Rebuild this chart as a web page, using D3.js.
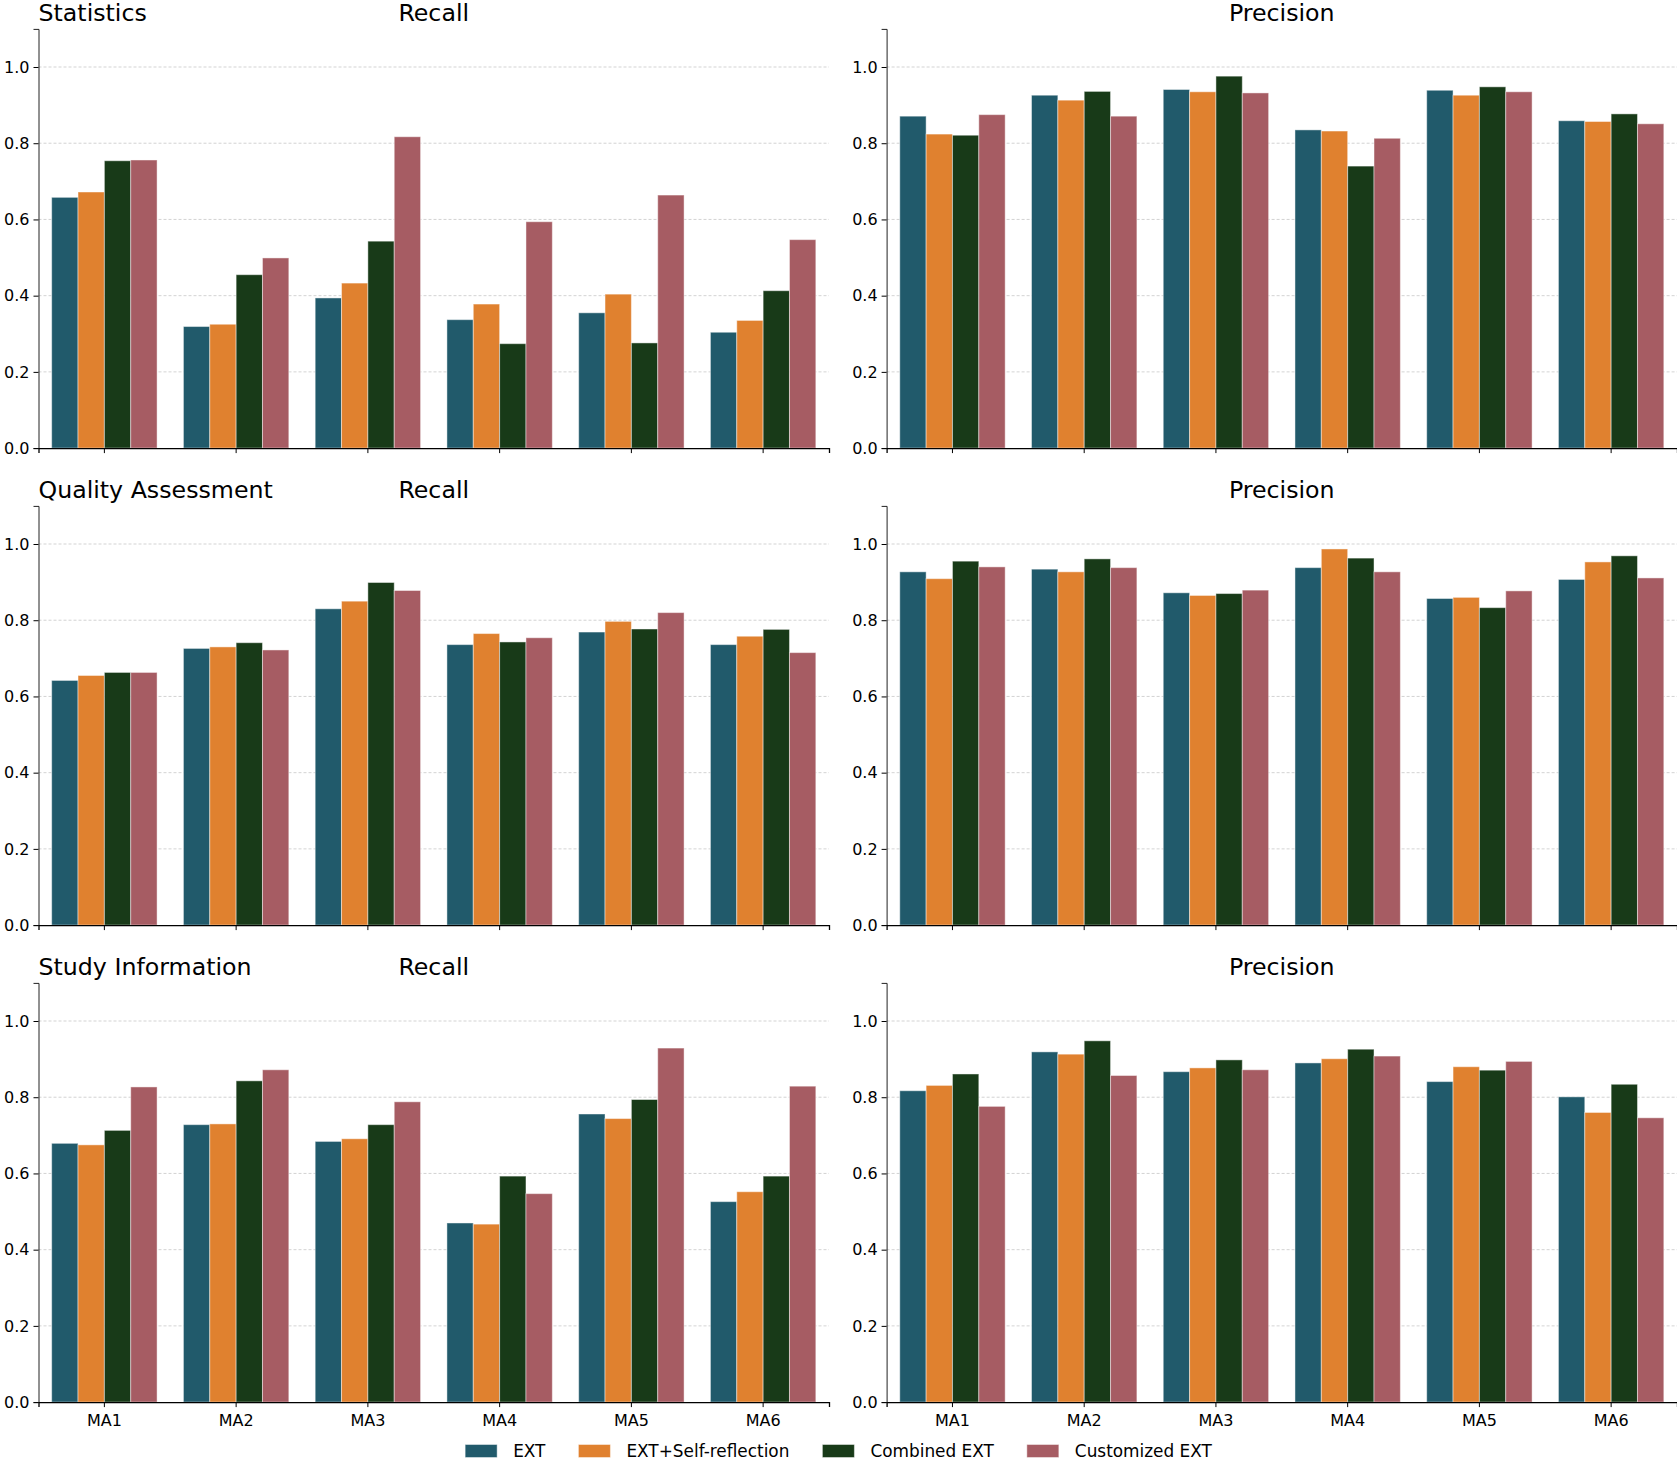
<!DOCTYPE html>
<html>
<head>
<meta charset="utf-8">
<script src="https://cdn.jsdelivr.net/npm/d3@7"></script>
<style>
  body { margin: 0; background: #fff; }
  svg { display: block; font-family: "DejaVu Sans", sans-serif; }
</style>
</head>
<body>
<div id="vis"></div>
<script>
// categories and series
const categories = ["MA1", "MA2", "MA3", "MA4", "MA5", "MA6"];
const seriesNames = ["EXT", "EXT+Self-reflection", "Combined EXT", "Customized EXT"];
const seriesColors = ["#215a6b", "#e0812f", "#183a18", "#a65c63"];
const yTicks = [0, 0.2, 0.4, 0.6, 0.8, 1.0];

// one row per series (EXT, EXT+Self-reflection, Combined EXT, Customized EXT), one column per MA
const statisticsRecall = [
  [0.658, 0.319, 0.394, 0.337, 0.355, 0.304],
  [0.672, 0.325, 0.433, 0.378, 0.404, 0.335],
  [0.754, 0.455, 0.543, 0.274, 0.276, 0.413],
  [0.756, 0.499, 0.817, 0.594, 0.664, 0.547]
];
const statisticsPrecision = [
  [0.871, 0.926, 0.941, 0.835, 0.939, 0.859],
  [0.824, 0.913, 0.935, 0.832, 0.926, 0.857],
  [0.821, 0.936, 0.976, 0.740, 0.948, 0.877],
  [0.875, 0.871, 0.932, 0.813, 0.935, 0.851]
];
const qualityRecall = [
  [0.642, 0.726, 0.830, 0.736, 0.769, 0.736],
  [0.655, 0.730, 0.850, 0.765, 0.797, 0.758],
  [0.663, 0.741, 0.899, 0.743, 0.777, 0.776],
  [0.663, 0.722, 0.878, 0.754, 0.820, 0.715]
];
const qualityPrecision = [
  [0.927, 0.934, 0.872, 0.938, 0.857, 0.907],
  [0.909, 0.927, 0.865, 0.987, 0.860, 0.953],
  [0.955, 0.961, 0.870, 0.963, 0.833, 0.969],
  [0.940, 0.938, 0.879, 0.927, 0.877, 0.911]
];
const studyRecall = [
  [0.679, 0.728, 0.684, 0.470, 0.756, 0.526],
  [0.675, 0.730, 0.691, 0.467, 0.744, 0.552],
  [0.713, 0.843, 0.728, 0.593, 0.794, 0.593],
  [0.827, 0.872, 0.788, 0.547, 0.929, 0.829]
];
const studyPrecision = [
  [0.817, 0.919, 0.867, 0.890, 0.841, 0.801],
  [0.831, 0.913, 0.877, 0.901, 0.880, 0.760],
  [0.861, 0.948, 0.898, 0.926, 0.871, 0.834],
  [0.776, 0.857, 0.872, 0.908, 0.894, 0.746]
];

const sectionTitles = ["Statistics", "Quality Assessment", "Study Information"];
const metricTitles = ["Recall", "Precision"];
const panelData = [
  [statisticsRecall, statisticsPrecision],
  [qualityRecall, qualityPrecision],
  [studyRecall, studyPrecision]
];

const W = 1677, H = 1461;
const colX = [[38.5, 829], [886.6, 1677]];
const rowY = [[28.9, 448.1], [505.9, 925.1], [982.9, 1402.1]];
const tickFont = 16, titleFont = 23.7, legendFont = 16.9;

const svg = d3.select("#vis").append("svg")
  .attr("width", W)
  .attr("height", H)
  .attr("viewBox", [0, 0, W, H]);

panelData.forEach((row, r) => {
  row.forEach((values, c) => {
    const [x0, x1] = colX[c];
    const [y0, y1] = rowY[r];

    const x = d3.scaleBand().domain(categories).range([x0, x1])
      .paddingInner(0.2).paddingOuter(0.1);
    const xs = d3.scaleBand().domain(d3.range(seriesNames.length)).range([0, x.bandwidth()]);
    const y = d3.scaleLinear().domain([0, 1.1]).range([y1, y0]);

    const g = svg.append("g");

    // grid lines
    g.append("g")
      .selectAll("line")
      .data(yTicks.filter(d => d > 0))
      .join("line")
      .attr("x1", x0).attr("x2", x1)
      .attr("y1", d => y(d)).attr("y2", d => y(d))
      .attr("stroke", "#c8c8c8")
      .attr("stroke-width", 0.8)
      .attr("stroke-dasharray", "3,2");

    // bars
    g.append("g")
      .selectAll("g")
      .data(values)
      .join("g")
      .attr("fill", (d, i) => seriesColors[i])
      .selectAll("rect")
      .data((d, i) => d.map((v, j) => ({ s: i, cat: categories[j], v })))
      .join("rect")
      .attr("x", d => x(d.cat) + xs(d.s))
      .attr("width", xs.bandwidth())
      .attr("y", d => y(d.v))
      .attr("height", d => y(0) - y(d.v))
      .attr("stroke", "rgba(255,255,255,0.45)")
      .attr("stroke-width", 1);

    // y axis
    g.append("g")
      .attr("transform", `translate(${x0},0)`)
      .call(d3.axisLeft(y).tickValues(yTicks).tickFormat(d3.format(".1f")).tickSizeOuter(0).tickSize(5).tickPadding(4))
      .call(a => a.select(".domain").attr("stroke", "#222").attr("stroke-width", 1))
      .call(a => a.selectAll("text").attr("font-size", tickFont).attr("font-family", "DejaVu Sans").attr("fill", "#000"));

    // x axis
    g.append("g")
      .attr("transform", `translate(0,${y1})`)
      .call(d3.axisBottom(x).tickSizeOuter(0).tickSize(5).tickPadding(8))
      .call(a => a.select(".domain").attr("stroke", "#000").attr("stroke-width", 1.3))
      .call(a => a.selectAll("text")
        .attr("font-size", tickFont)
        .attr("font-family", "DejaVu Sans")
        .attr("fill", "#000")
        .style("display", r === 2 ? null : "none"));

    // titles
    g.append("text")
      .attr("x", (x0 + x1) / 2)
      .attr("y", y0 - 8)
      .attr("text-anchor", "middle")
      .attr("font-size", titleFont)
      .text(metricTitles[c]);

    if (c === 0) {
      g.append("text")
        .attr("x", x0)
        .attr("y", y0 - 8)
        .attr("text-anchor", "start")
        .attr("font-size", titleFont)
        .text(sectionTitles[r]);
    }
  });
});

// legend along the bottom, centred on the figure
const legend = svg.append("g");
const legendItem = legend.selectAll("g")
  .data(seriesNames)
  .join("g");

legendItem.append("rect")
  .attr("width", 32)
  .attr("height", 13)
  .attr("y", -6.5)
  .attr("fill", (d, i) => seriesColors[i])
  .attr("stroke", "rgba(255,255,255,0.45)");

legendItem.append("text")
  .attr("x", 48)
  .attr("dy", "0.35em")
  .attr("font-size", legendFont)
  .text(d => d);

let cumulativeWidth = 0;
legendItem.each(function () {
  const textWidth = d3.select(this).select("text").node().getComputedTextLength();
  d3.select(this).attr("transform", `translate(${cumulativeWidth},0)`);
  cumulativeWidth += 48 + textWidth + 33;
});
cumulativeWidth -= 33;
legend.attr("transform", `translate(${(W - cumulativeWidth) / 2},1451)`);
</script>
</body>
</html>
